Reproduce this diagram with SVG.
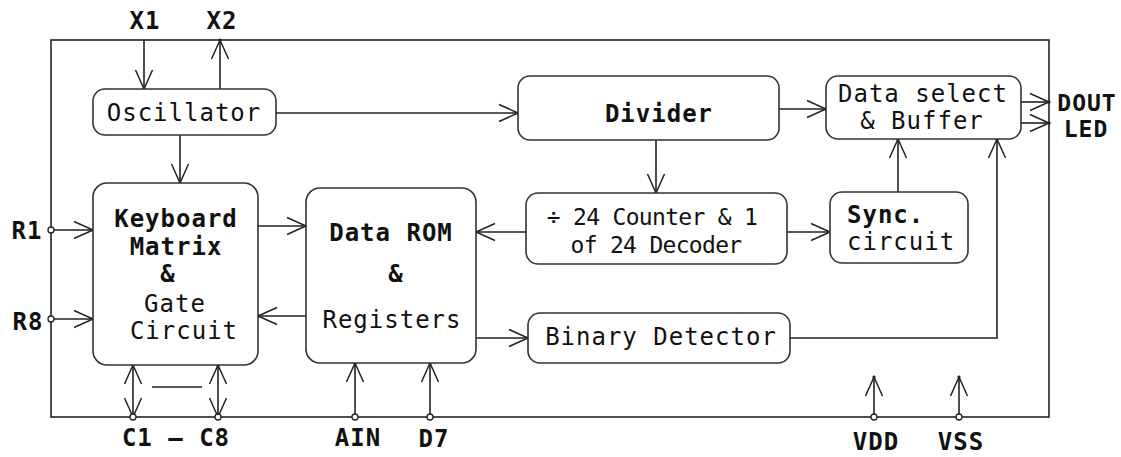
<svg xmlns="http://www.w3.org/2000/svg" width="1121" height="457" viewBox="0 0 1121 457">
<defs>
<marker id="arr" markerUnits="userSpaceOnUse" viewBox="-22 -11 24 22" markerWidth="24" markerHeight="22" refX="0" refY="0" orient="auto-start-reverse">
<path d="M-19,-8.5 L0,0 L-19,8.5" fill="none" stroke="#222" stroke-width="1.5"/>
<circle cx="0" cy="0" r="1.6" fill="#222"/>
</marker>
</defs>
<style>
.box{fill:#fff;stroke:#333;stroke-width:1.6}
.ln{fill:none;stroke:#222;stroke-width:1.6}
.ar{fill:none;stroke:#222;stroke-width:1.6;marker-end:url(#arr)}
.ar2{fill:none;stroke:#222;stroke-width:1.6;marker-end:url(#arr);marker-start:url(#arr)}
.pin{fill:#fff;stroke:#222;stroke-width:1.3}
text{font-family:"DejaVu Sans Mono","Liberation Mono",monospace;font-size:24px;letter-spacing:1px;fill:#111}
.b{font-weight:bold}
.m{text-anchor:middle}
.sm{font-size:23px;letter-spacing:-0.7px}
.pl{font-size:23px}
</style>
<rect width="1121" height="457" fill="#fff"/>
<g id="frame">
<rect x="51" y="40" width="998" height="377" class="ln"/>
</g>
<g id="connectors">
<line class="ar" x1="144" y1="40" x2="144" y2="89"/>
<line class="ar" x1="220" y1="89" x2="220" y2="40"/>
<line class="ar" x1="276" y1="113" x2="518" y2="113"/>
<line class="ar" x1="180" y1="135" x2="180" y2="183"/>
<line class="ar" x1="51" y1="230" x2="93" y2="230"/>
<line class="ar" x1="51" y1="319" x2="93" y2="319"/>
<line class="ar" x1="258" y1="226" x2="306" y2="226"/>
<line class="ar" x1="306" y1="316" x2="258" y2="316"/>
<line class="ar2" x1="133" y1="365" x2="133" y2="417"/>
<line class="ar2" x1="218" y1="365" x2="218" y2="417"/>
<line class="ln" x1="152" y1="387" x2="202" y2="387"/>
<line class="ar" x1="355" y1="417" x2="355" y2="363"/>
<line class="ar" x1="430" y1="417" x2="430" y2="363"/>
<line class="ar" x1="656" y1="140" x2="656" y2="193"/>
<line class="ar" x1="526" y1="232" x2="476" y2="232"/>
<line class="ar" x1="787" y1="232" x2="830" y2="232"/>
<line class="ar" x1="898" y1="192" x2="898" y2="139"/>
<line class="ar" x1="779" y1="109" x2="826" y2="109"/>
<line class="ar" x1="476" y1="338" x2="528" y2="338"/>
<polyline class="ar" points="790,338 997,338 997,139"/>
<line class="ar" x1="1021" y1="102" x2="1049" y2="102"/>
<line class="ar" x1="1021" y1="123" x2="1049" y2="123"/>
<line class="ar" x1="874" y1="417" x2="874" y2="377"/>
<line class="ar" x1="959" y1="417" x2="959" y2="377"/>
<circle class="pin" cx="51" cy="230" r="3"/>
<circle class="pin" cx="51" cy="319" r="3"/>
<circle class="pin" cx="133" cy="417" r="3"/>
<circle class="pin" cx="218" cy="417" r="3"/>
<circle class="pin" cx="355" cy="417" r="3"/>
<circle class="pin" cx="430" cy="417" r="3"/>
<circle class="pin" cx="874" cy="417" r="3"/>
<circle class="pin" cx="959" cy="417" r="3"/>
</g>
<g id="oscillator">
<rect class="box" x="93" y="89" width="183" height="46" rx="12"/>
<text class="m" x="184" y="121">Oscillator</text>
</g>
<g id="keyboard">
<rect class="box" x="93" y="183" width="165" height="182" rx="14"/>
<text class="m b" x="176" y="227">Keyboard</text>
<text class="m b" x="176" y="255">Matrix</text>
<text class="m b" x="168" y="282">&amp;</text>
<text class="m" x="175" y="312">Gate</text>
<text class="m" x="184" y="339">Circuit</text>
</g>
<g id="datarom">
<rect class="box" x="306" y="188" width="170" height="175" rx="14"/>
<text class="m b" x="391" y="241">Data ROM</text>
<text class="m b" x="396" y="282">&amp;</text>
<text class="m" x="392" y="328">Registers</text>
</g>
<g id="divider">
<rect class="box" x="518" y="76" width="261" height="64" rx="12"/>
<text class="m b" x="659" y="122">Divider</text>
</g>
<g id="counter">
<rect class="box" x="526" y="193" width="261" height="71" rx="12"/>
<text class="m sm" x="652" y="225">÷ 24 Counter &amp; 1</text>
<text class="m sm" x="656" y="253">of 24 Decoder</text>
</g>
<g id="sync">
<rect class="box" x="830" y="192" width="138" height="71" rx="12"/>
<text class="b" x="847" y="223">Sync.</text>
<text x="847" y="250">circuit</text>
</g>
<g id="dataselect">
<rect class="box" x="826" y="76" width="195" height="63" rx="12"/>
<text class="m" x="923" y="102">Data select</text>
<text class="m" x="922" y="129">&amp; Buffer</text>
</g>
<g id="binary">
<rect class="box" x="528" y="313" width="262" height="50" rx="12"/>
<text class="m" x="661" y="345">Binary Detector</text>
</g>
<g id="labels">
<text class="m b" x="145" y="29">X1</text>
<text class="m b" x="222" y="29">X2</text>
<text class="m b" x="27" y="239">R1</text>
<text class="m b" x="28" y="330">R8</text>
<text class="m b pl" x="1087" y="111">DOUT</text>
<text class="m b pl" x="1086" y="137">LED</text>
<text class="m b" x="176" y="446">C1 — C8</text>
<text class="m b" x="358" y="446">AIN</text>
<text class="m b" x="434" y="447">D7</text>
<text class="m b" x="876" y="450">VDD</text>
<text class="m b" x="961" y="450">VSS</text>
</g>
</svg>
